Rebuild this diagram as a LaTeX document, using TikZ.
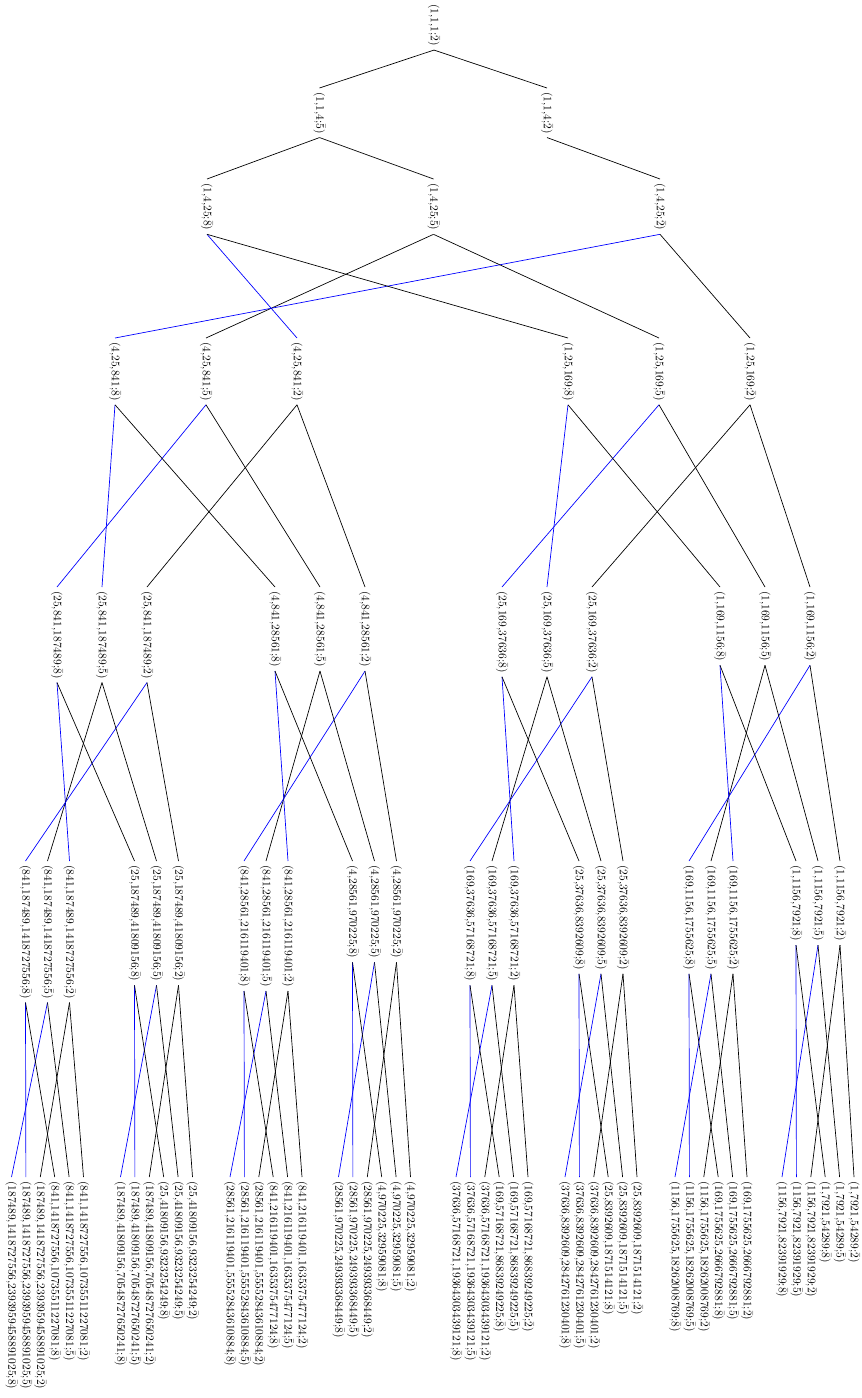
\documentclass[tikz,border=0pt]{standalone}
\usetikzlibrary{calc}
\tikzset{
  lab/.style={rotate=-90, anchor=west, inner sep=3.3pt, font=\fontsize{10}{12}\selectfont},
  edge/.style={black, line width=0.6pt},
  bedge/.style={blue, line width=0.6pt}
}
% #1 name, #2 centre x, #3 spacing, #4 y, #5 triple text
\newcommand\mytrip[5]{%
  \node[lab] (#1-8) at ({#2-#3},#4) {(#5;\(\bar{8}\))};
  \node[lab] (#1-5) at ({#2},#4) {(#5;\(\bar{5}\))};
  \node[lab] (#1-2) at ({#2+#3},#4) {(#5;\(\bar{2}\))};}
% swap 8<->2 for the left child: #1 parent, #2 left child, #3 right child
\newcommand\kidsA[3]{%
  \draw[bedge] (#1-8.east) -- (#2-2.west);
  \draw[edge] (#1-5.east) -- (#2-5.west);
  \draw[bedge] (#1-2.east) -- (#2-8.west);
  \draw[edge] (#1-8.east) -- (#3-8.west);
  \draw[edge] (#1-5.east) -- (#3-5.west);
  \draw[edge] (#1-2.east) -- (#3-2.west);}
% swap 8<->5 for the left child
\newcommand\kidsB[3]{%
  \draw[bedge] (#1-8.east) -- (#2-5.west);
  \draw[bedge] (#1-5.east) -- (#2-8.west);
  \draw[edge] (#1-2.east) -- (#2-2.west);
  \draw[edge] (#1-8.east) -- (#3-8.west);
  \draw[edge] (#1-5.east) -- (#3-5.west);
  \draw[edge] (#1-2.east) -- (#3-2.west);}
\begin{document}
\begin{tikzpicture}[x=0.87pt, y=-0.87pt]
\useasboundingbox (0,0) rectangle (861,1398);
% level 0 and 1
\node[lab] (r) at (434,0.5) {(1,1,1;\(\bar{2}\))};
\node[lab] (a-5) at (319.5,88) {(1,1,4;\(\bar{5}\))};
\node[lab] (a-2) at (547,88) {(1,1,4;\(\bar{2}\))};
% level 2
\mytrip{b}{433.5}{226.5}{179}{1,4,25}
% level 3
\mytrip{cL}{206}{91}{338}{4,25,841}
\mytrip{cR}{659}{91}{338}{1,25,169}
% level 4
\mytrip{d1}{102}{45}{587}{25,841,187489}
\mytrip{d2}{320}{45}{587}{4,841,28561}
\mytrip{d3}{547}{45}{587}{25,169,37636}
\mytrip{d4}{765}{45}{587}{1,169,1156}
% level 5
\mytrip{e1}{47.5}{22}{861}{841,187489,1418727556}
\mytrip{e2}{156.5}{22}{861}{25,187489,41809156}
\mytrip{e3}{266}{22}{861}{841,28561,216119401}
\mytrip{e4}{374.5}{22}{861}{4,28561,970225}
\mytrip{e5}{492}{22}{861}{169,37636,57168721}
\mytrip{e6}{601}{22}{861}{25,37636,8392609}
\mytrip{e7}{711}{22}{861}{169,1156,1755625}
\mytrip{e8}{818}{22}{861}{1,1156,7921}
% level 6
\mytrip{f1}{47.5-21.6}{14.4}{1177}{187489,1418727556,2393959458891025}
\mytrip{f2}{47.5+21.6}{14.4}{1177}{841,1418727556,10735511227081}
\mytrip{f3}{156.5-21.6}{14.4}{1177}{187489,41809156,70548727650241}
\mytrip{f4}{156.5+21.6}{14.4}{1177}{25,41809156,9323254249}
\mytrip{f5}{266-21.6}{14.4}{1177}{28561,216119401,55552843610884}
\mytrip{f6}{266+21.6}{14.4}{1177}{841,216119401,1635375477124}
\mytrip{f7}{374.5-21.6}{14.4}{1177}{28561,970225,249393368449}
\mytrip{f8}{374.5+21.6}{14.4}{1177}{4,970225,32959081}
\mytrip{f9}{492-21.6}{14.4}{1177}{37636,57168721,19364303439121}
\mytrip{f10}{492+21.6}{14.4}{1177}{169,57168721,86839249225}
\mytrip{f11}{601-21.6}{14.4}{1177}{37636,8392609,2842761230401}
\mytrip{f12}{601+21.6}{14.4}{1177}{25,8392609,1871514121}
\mytrip{f13}{711-21.6}{14.4}{1177}{1156,1755625,18262008769}
\mytrip{f14}{711+21.6}{14.4}{1177}{169,1755625,2666792881}
\mytrip{f15}{818-21.6}{14.4}{1177}{1156,7921,82391929}
\mytrip{f16}{818+21.6}{14.4}{1177}{1,7921,54289}
% edges
\draw[edge] (r.east) -- (a-5.west);
\draw[edge] (r.east) -- (a-2.west);
\draw[edge] (a-5.east) -- (b-8.west);
\draw[edge] (a-5.east) -- (b-5.west);
\draw[edge] (a-2.east) -- (b-2.west);
\kidsA{b}{cL}{cR}
\kidsB{cL}{d1}{d2}
\kidsB{cR}{d3}{d4}
\kidsA{d1}{e1}{e2}
\kidsA{d2}{e3}{e4}
\kidsA{d3}{e5}{e6}
\kidsA{d4}{e7}{e8}
\kidsB{e1}{f1}{f2}
\kidsB{e2}{f3}{f4}
\kidsB{e3}{f5}{f6}
\kidsB{e4}{f7}{f8}
\kidsB{e5}{f9}{f10}
\kidsB{e6}{f11}{f12}
\kidsB{e7}{f13}{f14}
\kidsB{e8}{f15}{f16}
\end{tikzpicture}
\end{document}
